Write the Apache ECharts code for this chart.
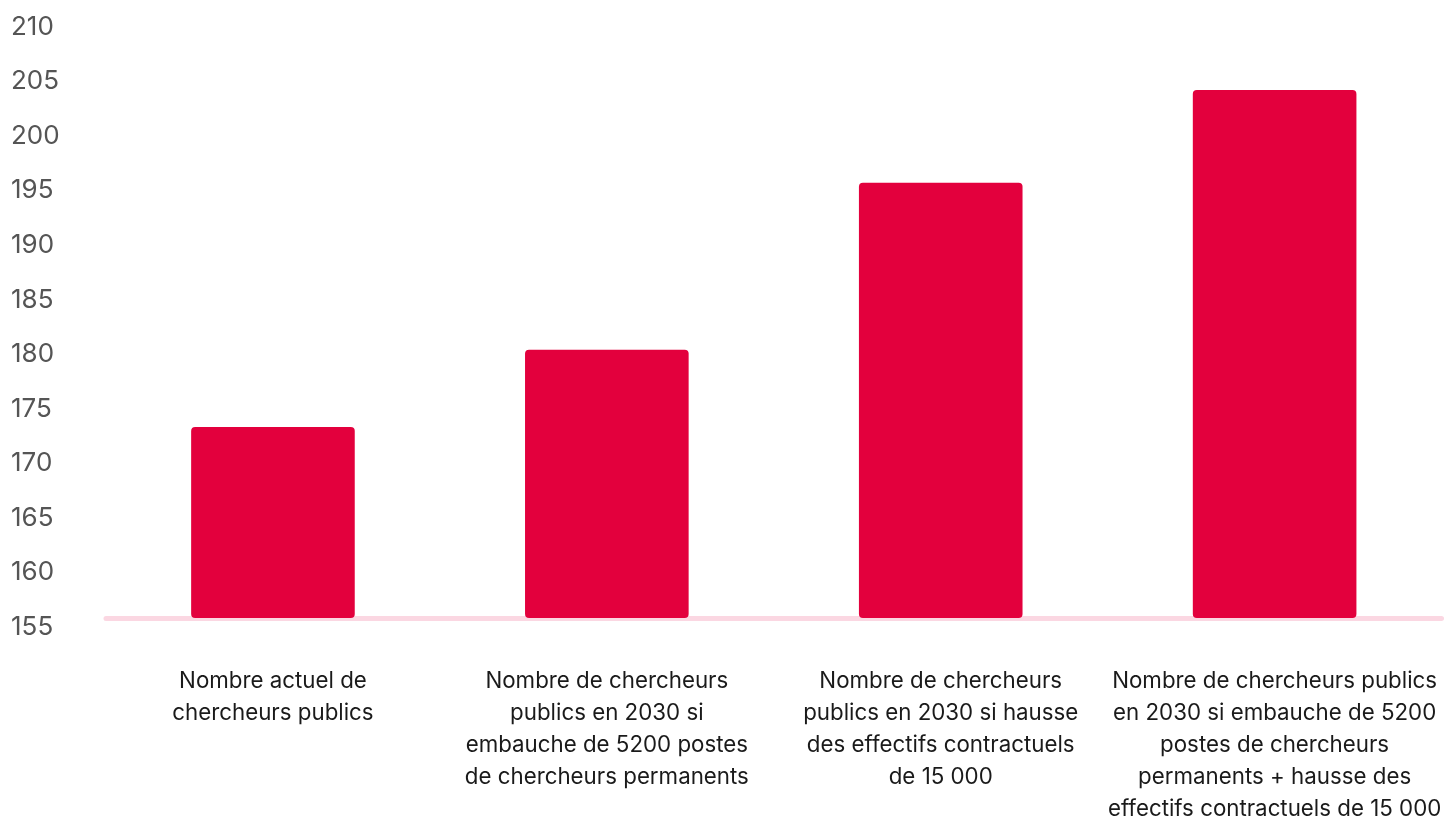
<!DOCTYPE html>
<html>
<head>
<meta charset="utf-8">
<script src="https://cdn.jsdelivr.net/npm/echarts@6/dist/echarts.min.js"></script>
<style>
html,body{margin:0;padding:0;background:#fff;overflow:hidden;}
#c{width:100vw;height:100vh;}
</style>
</head>
<body>
<div id="c"></div>
<script>
const categories = [
  "Nombre actuel de\nchercheurs publics",
  "Nombre de chercheurs\npublics en 2030 si\nembauche de 5200 postes\nde chercheurs permanents",
  "Nombre de chercheurs\npublics en 2030 si hausse\ndes effectifs contractuels\nde 15 000",
  "Nombre de chercheurs publics\nen 2030 si embauche de 5200\npostes de chercheurs\npermanents + hausse des\neffectifs contractuels de 15 000"
];
const values = [172.5, 179.6, 194.9, 203.4];
const yMin = 155, yMax = 210, yStep = 5;

const chart = echarts.init(document.getElementById('c'));
chart.setOption({
  animation: false,
  grid: {left: 106, right: 0, top: 18, bottom: 201, containLabel: false},
  xAxis: {
    type: 'category',
    data: categories,
    axisLine: {show: true, lineStyle: {color: '#fbd7e2', width: 5, cap: 'round'}},
    axisTick: {show: false},
    axisLabel: {
      interval: 0,
      margin: 47,
      fontFamily: 'Inter',
      fontSize: 22.3,
      lineHeight: 32,
      color: '#1a1a1a',
      align: 'center'
    }
  },
  yAxis: {
    type: 'value',
    min: yMin, max: yMax, interval: yStep,
    splitLine: {show: false},
    axisLine: {show: false},
    axisTick: {show: false},
    axisLabel: {
      align: 'left',
      verticalAlign: 'top',
      lineHeight: 18,
      margin: 95,
      fontFamily: 'Inter',
      fontSize: 26,
      color: '#555555'
    }
  },
  series: [{
    type: 'bar',
    data: values,
    barWidth: '49%',
    itemStyle: {color: '#e3003d', borderRadius: 4}
  }]
});
</script>
</body>
</html>
